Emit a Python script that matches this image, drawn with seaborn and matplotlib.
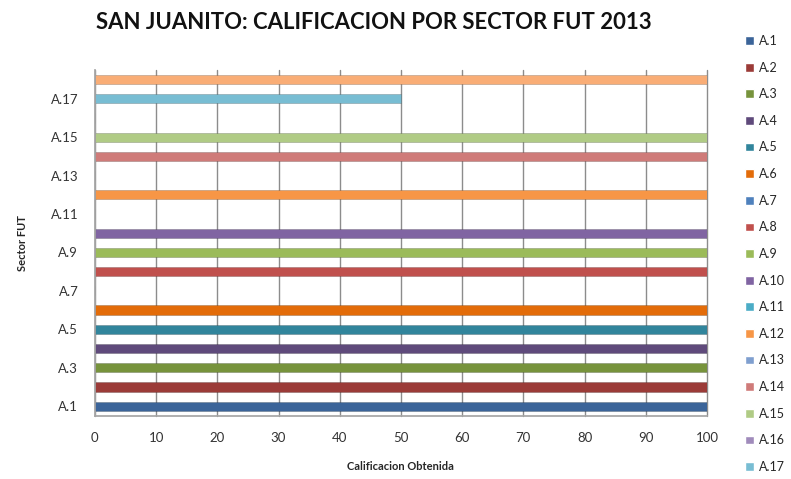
import matplotlib
matplotlib.use("Agg")
import matplotlib.pyplot as plt
import seaborn as sns
import pandas as pd
from matplotlib.patches import Patch

categories = ["A.1", "A.2", "A.3", "A.4", "A.5", "A.6", "A.7", "A.8", "A.9",
              "A.10", "A.11", "A.12", "A.13", "A.14", "A.15", "A.16", "A.17", "A.18"]
values = [100, 100, 100, 100, 100, 100, 0, 100, 100,
          100, 0, 100, 0, 100, 100, 0, 50, 100]
colors = ["#3B6499", "#9B3B38", "#77933C", "#5F4A7B", "#31859C", "#E36C09",
          "#4F81BD", "#C0504D", "#9BBB59", "#8064A2", "#4BACC6", "#F79646",
          "#7F9FCF", "#CF7B79", "#B0CB85", "#A08BBB", "#78BDD3", "#F9AD76"]
legend_labels = categories[:17]
xticks = [0, 10, 20, 30, 40, 50, 60, 70, 80, 90, 100]

sns.set_theme(style="white")
plt.rcParams["font.family"] = ["Lato", "DejaVu Sans"]

df = pd.DataFrame({"Sector": categories, "Valor": values})

fig = plt.figure(figsize=(7.91, 4.79), dpi=100)
ax = fig.add_axes([0.120, 0.132, 0.7737, 0.722])

sns.barplot(data=df, x="Valor", y="Sector", hue="Sector", order=categories,
            hue_order=categories, palette=colors, orient="h", dodge=False,
            legend=False, width=0.48, ax=ax, saturation=1)
for p in ax.patches:
    p.set_edgecolor("#00000033")
    p.set_linewidth(0.6)

ax.set_ylim(-0.5, len(categories) - 0.5)
ax.set_xlim(0, 100)
ax.set_xticks(xticks)
ax.set_xticklabels([str(t) for t in xticks], fontsize=9.5, color="#333333")
ax.set_yticks(range(0, len(categories), 2))
ax.set_yticklabels([categories[i] for i in range(0, len(categories), 2)],
                   fontsize=9.5, color="#333333")
ax.tick_params(axis="x", pad=12, length=0)
ax.tick_params(axis="y", pad=12, length=0)
ax.grid(axis="x", color="#8C8C8C", linewidth=1.0)
ax.set_axisbelow(True)
for s in ["top", "right"]:
    ax.spines[s].set_visible(False)
ax.spines["left"].set_color("#A6A6A6")
ax.spines["bottom"].set_color("#A6A6A6")
for gl in ax.get_xgridlines():
    gl.set_clip_on(False)

ax.set_xlabel("Calificacion Obtenida", fontsize=8, fontweight="bold", labelpad=12)
ax.set_ylabel("Sector FUT", fontsize=8, fontweight="bold", labelpad=16)

fig.text(0.473, 0.952, "SAN JUANITO: CALIFICACION POR SECTOR FUT 2013",
         ha="center", va="center", fontsize=15.9, fontweight="bold", color="#111111")

handles = [Patch(facecolor=c) for c in colors[:17]]
fig.legend(handles, legend_labels, loc="upper left", bbox_to_anchor=(0.942, 0.927),
           frameon=False, fontsize=9, handlelength=0.7, handleheight=0.7,
           handletextpad=0.4, labelspacing=1.17, borderaxespad=0, borderpad=0)

fig.savefig("out.png", dpi=100)
